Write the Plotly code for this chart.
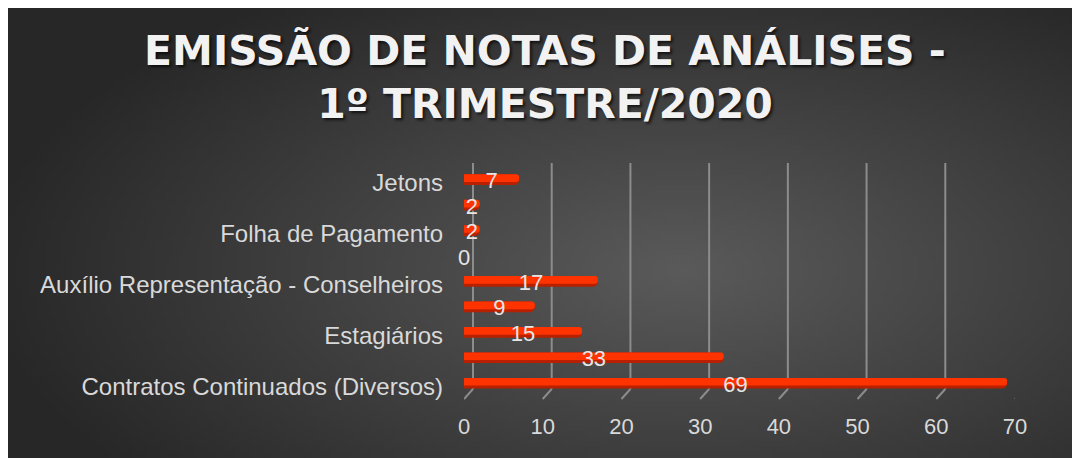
import base64
import struct
import zlib

import plotly.graph_objects as go

# ---------------- data ----------------
categories = [
    "Jetons",
    "",
    "Folha de Pagamento",
    "",
    "Auxílio Representação - Conselheiros",
    "",
    "Estagiários",
    "",
    "Contratos Continuados (Diversos)",
]
values = [7, 2, 2, 0, 17, 9, 15, 33, 69]
x_ticks = [0, 10, 20, 30, 40, 50, 60, 70]
title_text = "EMISSÃO DE NOTAS DE ANÁLISES -<br>1º TRIMESTRE/2020"

# ---------------- geometry (page body has an 8px margin) ----------------
W, H = 1072, 450
ML, MR, MT, MB = 456, 65, 162, 59
PW = W - ML - MR
PH = H - MT - MB

positions = list(range(len(categories)))
tick_pos = [p for p, c in zip(positions, categories) if c]
tick_lab = [c for c in categories if c]


# ---------------- background gradient image ----------------
def gradient_png(w, h, full_w, full_h, cx, cy, rx, ry, c_in, c_out):
    rows = []
    for j in range(h):
        row = bytearray([0])
        py = (j + 0.5) / h * full_h
        for i in range(w):
            px = (i + 0.5) / w * full_w
            t = (((px - cx) / rx) ** 2 + ((py - cy) / ry) ** 2) ** 0.5
            t = min(t, 1.0)
            v = int(round(c_in + (c_out - c_in) * t))
            row += bytes([v, v, v])
        rows.append(bytes(row))
    raw = b"".join(rows)

    def chunk(tag, data):
        c = struct.pack(">I", len(data)) + tag + data
        return c + struct.pack(">I", zlib.crc32(tag + data) & 0xFFFFFFFF)

    png = b"\x89PNG\r\n\x1a\n"
    png += chunk(b"IHDR", struct.pack(">IIBBBBB", w, h, 8, 2, 0, 0, 0))
    png += chunk(b"IDAT", zlib.compress(raw, 9))
    png += chunk(b"IEND", b"")
    return "data:image/png;base64," + base64.b64encode(png).decode()


bg_src = gradient_png(214, 90, W, H, 672, 262, 700, 330, 0x5A, 0x27)

fig = go.Figure()

# bar underside (darker) and top face (bright)
fig.add_trace(go.Bar(
    y=positions, x=values, orientation="h",
    width=0.42, offset=-0.33,
    marker=dict(color="#B82000", cornerradius=5, line=dict(width=0)),
    hoverinfo="skip", showlegend=False,
))
fig.add_trace(go.Bar(
    y=positions, x=values, orientation="h",
    width=0.30, offset=-0.33,
    marker=dict(color="#FF3300", cornerradius=4, line=dict(width=0)),
    hoverinfo="skip", showlegend=False,
))

# data labels centred on bars
fig.add_trace(go.Scatter(
    y=positions, x=[v / 2 for v in values], mode="text",
    text=[str(v) for v in values], textposition="middle center",
    textfont=dict(family="Liberation Sans, Arial, sans-serif", size=22, color="#E6E6E6"),
    cliponaxis=False, hoverinfo="skip", showlegend=False,
))

# 3D-like gridlines: back wall line + diagonal floor edge
shapes = []
for v in x_ticks:
    shapes.append(dict(
        type="line", xref="x", xsizemode="pixel", xanchor=v, x0=9, x1=9,
        yref="paper", ysizemode="pixel", yanchor=0, y0=10, y1=236,
        line=dict(color="#8C8C8C", width=2), layer="below",
    ))
    shapes.append(dict(
        type="line", xref="x", xsizemode="pixel", xanchor=v, x0=9, x1=0,
        yref="paper", ysizemode="pixel", yanchor=0, y0=10, y1=0,
        line=dict(color="#8C8C8C", width=2), layer="below",
    ))

fig.update_layout(
    width=W, height=H,
    margin=dict(l=ML, r=MR, t=MT, b=MB, pad=0),
    paper_bgcolor="#2A2A2A",
    plot_bgcolor="rgba(0,0,0,0)",
    barmode="overlay",
    showlegend=False,
    shapes=shapes,
    images=[dict(
        source=bg_src, xref="paper", yref="paper",
        x=-ML / PW, y=(H - MB) / PH,
        sizex=W / PW, sizey=H / PH,
        xanchor="left", yanchor="top", sizing="stretch", layer="below",
    )],
    title=dict(
        text=title_text,
        x=537 / W, xref="container", xanchor="center",
        y=1 - 57 / H, yref="container", yanchor="top",
        font=dict(family="DejaVu Sans, sans-serif", size=41, color="#F2F2F2",
                  weight="bold", shadow="2px 2px 3px rgba(0,0,0,0.7)"),
    ),
    xaxis=dict(
        range=[0, 70], tickvals=x_ticks, ticktext=[str(t) for t in x_ticks],
        showgrid=False, zeroline=False, showline=False, ticks="",
        ticklabelstandoff=12,
        tickfont=dict(family="Liberation Sans, Arial, sans-serif", size=22, color="#D9D9D9"),
    ),
    yaxis=dict(
        range=[len(categories) - 0.5, -0.5],
        tickvals=tick_pos, ticktext=tick_lab,
        showgrid=False, zeroline=False, showline=False, ticks="",
        ticklabelstandoff=20,
        tickfont=dict(family="Liberation Sans, Arial, sans-serif", size=24, color="#D9D9D9"),
    ),
)

fig.write_html("out.html")
